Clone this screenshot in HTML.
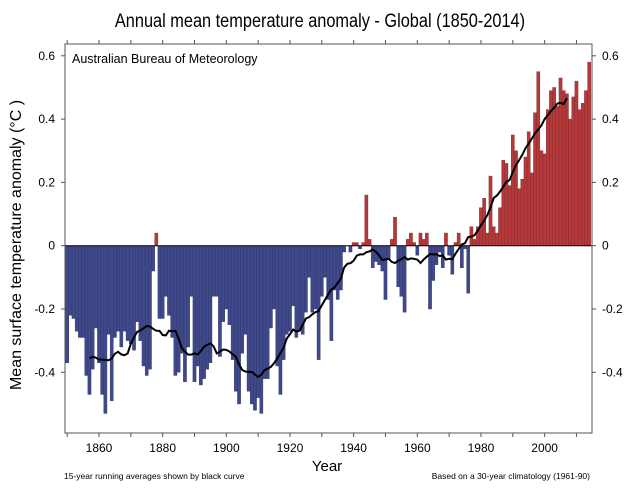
<!DOCTYPE html>
<html><head><meta charset="utf-8"><style>
body{margin:0;background:#fff;width:641px;height:489px;overflow:hidden}
svg{display:block;font-family:"Liberation Sans",sans-serif}
</style></head><body>
<svg id="chart" width="641" height="489" xmlns="http://www.w3.org/2000/svg">
<text x="320" y="27" font-size="19" text-anchor="middle" transform="translate(320,0) scale(0.86,1) translate(-320,0)">Annual mean temperature anomaly - Global (1850-2014)</text>
<text transform="translate(21,245) rotate(-90)" font-size="16" text-anchor="middle">Mean surface temperature anomaly (°C )</text>
<text x="327" y="471" font-size="15" text-anchor="middle">Year</text>
<text x="64" y="479" font-size="8.5">15-year running averages shown by black curve</text>
<text x="590" y="479" font-size="8.5" text-anchor="end">Based on a 30-year climatology (1961-90)</text>
<g id="plot"></g>
<text x="72" y="63" font-size="12.5">Australian Bureau of Meteorology</text>
</svg>
<script>
const years=[];for(let y=1850;y<=2014;y++)years.push(y);
const anomalies=[-0.37,-0.22,-0.23,-0.27,-0.29,-0.29,-0.41,-0.47,-0.39,-0.26,
-0.37,-0.47,-0.53,-0.28,-0.49,-0.29,-0.27,-0.32,-0.27,-0.30,
-0.31,-0.33,-0.24,-0.30,-0.38,-0.41,-0.39,-0.08,0.04,-0.23,
-0.23,-0.16,-0.22,-0.29,-0.41,-0.40,-0.34,-0.43,-0.32,-0.16,
-0.43,-0.38,-0.44,-0.42,-0.39,-0.37,-0.16,-0.16,-0.35,-0.24,
-0.20,-0.25,-0.36,-0.46,-0.50,-0.34,-0.28,-0.46,-0.50,-0.52,
-0.48,-0.53,-0.42,-0.42,-0.26,-0.20,-0.38,-0.47,-0.36,-0.28,
-0.27,-0.19,-0.29,-0.27,-0.28,-0.21,-0.10,-0.21,-0.20,-0.36,
-0.16,-0.10,-0.17,-0.30,-0.14,-0.17,-0.14,-0.02,0.00,-0.02,
0.01,0.01,-0.01,0.01,0.16,0.02,-0.07,-0.05,-0.06,-0.08,
-0.17,-0.04,0.02,0.09,-0.13,-0.16,-0.21,0.02,0.04,0.01,
-0.03,0.04,0.02,0.04,-0.20,-0.11,-0.06,-0.02,-0.07,0.04,
-0.03,-0.09,0.01,0.04,-0.07,-0.01,-0.15,0.06,0.02,0.06,
0.12,0.15,0.04,0.22,0.06,0.04,0.12,0.27,0.26,0.19,
0.35,0.30,0.18,0.21,0.28,0.36,0.23,0.42,0.55,0.30,
0.29,0.43,0.49,0.50,0.44,0.53,0.49,0.48,0.40,0.47,
0.52,0.43,0.45,0.49,0.58];
const yTicks=[-0.4,-0.2,0,0.2,0.4,0.6];
const xTicks=[1860,1880,1900,1920,1940,1960,1980,2000];
const L=65,R=592,T=44,B=433;
const xs=y=>99+(y-1860)*3.183;
const ys=v=>245.7-v*316.5;
const NS="http://www.w3.org/2000/svg";
const g=document.getElementById('plot');
function mk(t,a){const e=document.createElementNS(NS,t);for(const k in a)e.setAttribute(k,a[k]);g.appendChild(e);return e;}
const bw=3.183;
years.forEach((yr,i)=>{const v=anomalies[i];const y0=ys(0),y1=ys(v);
 const b=mk('rect',{x:xs(yr)-bw/2,y:Math.min(y0,y1),width:bw,height:Math.abs(y1-y0),fill:v>=0?'#b5393b':'#3f4888',stroke:v>=0?'#7a2a2a':'#2e3670','stroke-width':0.4});
 
 
});
const z=mk('line',{x1:L,x2:R,y1:ys(0),y2:ys(0),stroke:'#000','stroke-width':1});


// 15-year running mean
let pts=[];
for(let i=7;i<years.length-7;i++){let s=0;for(let j=i-7;j<=i+7;j++)s+=anomalies[j];pts.push(xs(years[i]).toFixed(1)+','+ys(s/15).toFixed(1));}
const rm=mk('polyline',{points:pts.join(' '),fill:'none',stroke:'#000','stroke-width':2});


const fr=mk('rect',{x:L,y:T,width:R-L,height:B-T,fill:'none',stroke:'#555','stroke-width':1});


yTicks.forEach(v=>{const y=ys(v);
 mk('line',{x1:L-4,x2:L,y1:y,y2:y,stroke:'#555'});mk('line',{x1:R,x2:R+4,y1:y,y2:y,stroke:'#555'});
 const lab=v===0?'0':v.toFixed(1);
 const a=mk('text',{x:L-10,y:y+4,'font-size':12,'text-anchor':'end'});a.textContent=lab;
 
 
 const b=mk('text',{x:R+10,y:y+4,'font-size':12});b.textContent=lab;
 
 
});
for(let yr=1850;yr<=2010;yr+=10){const x=xs(yr);mk('line',{x1:x,x2:x,y1:B,y2:B+4,stroke:'#555'});mk('line',{x1:x,x2:x,y1:T,y2:T-4,stroke:'#555'});}
xTicks.forEach(yr=>{const t=mk('text',{x:xs(yr),y:452,'font-size':12,'text-anchor':'middle'});t.textContent=yr;
 
 
});
</script>
</body></html>
